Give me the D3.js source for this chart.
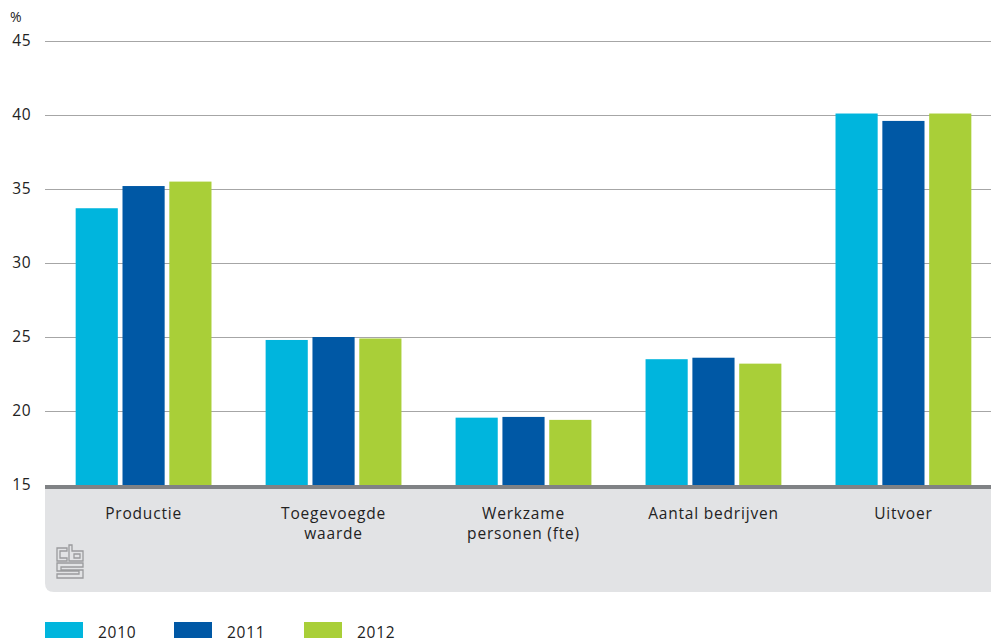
<!DOCTYPE html>
<html><head><meta charset="utf-8">
<script src="https://cdn.jsdelivr.net/npm/d3@7"></script>
<style>body{margin:0;background:#fff}svg{display:block}text{font-family:"Open Sans","Noto Sans",sans-serif;fill:#222}</style>
</head><body><svg id="c" width="991" height="642"></svg>
<script>
const categories = ["Productie", "Toegevoegde\nwaarde", "Werkzame\npersonen (fte)", "Aantal bedrijven", "Uitvoer"];
const years = ["2010", "2011", "2012"];
const v2010 = [33.7, 24.8, 19.55, 23.5, 40.1];
const v2011 = [35.2, 25.0, 19.6, 23.6, 39.6];
const v2012 = [35.5, 24.9, 19.4, 23.2, 40.1];
const yTicks = [15, 20, 25, 30, 35, 40, 45];
const colors = ["#00b5dd", "#0058a5", "#a9cf38"];
const series = [v2010, v2011, v2012];

(function () {
const svg = d3.select("#c");
const pLeft = 45, pRight = 991, pTop = 41, pBottom = 485;
const y = d3.scaleLinear().domain([15, 45]).range([pBottom, pTop]);
const x0 = d3.scaleBand().domain(categories).range([48.5, 998.5]).paddingInner(0.285).paddingOuter(0.143);
const x1 = d3.scaleBand().domain(years).range([0, x0.bandwidth()]).paddingInner(0.1);

// gray panel
const panelBottom = 592, r = 9;
svg.append("path").attr("fill", "#e2e3e5")
  .attr("d", `M${pLeft},${pBottom} H${pRight} V${panelBottom} H${pLeft + r} Q${pLeft},${panelBottom} ${pLeft},${panelBottom - r} Z`);

// grid
const yAxis = d3.axisLeft(y).tickValues(yTicks).tickSize(-(pRight - pLeft)).tickFormat(d3.format("d"));
const ga = svg.append("g").attr("transform", `translate(${pLeft},0)`).call(yAxis);
ga.select(".domain").remove();
ga.selectAll(".tick line").attr("stroke", "#a6a6a6").attr("stroke-width", 1);
ga.selectAll(".tick text").attr("x", -14).attr("font-size", 15.5).attr("fill", "#222")
  .attr("letter-spacing", 0.5)
  .style("font-family", '"Open Sans","Noto Sans",sans-serif');
svg.append("text").attr("x", 10).attr("y", 22).attr("font-size", 14).text("%");

// bars
const g = svg.append("g");
categories.forEach((c, i) => {
  years.forEach((yr, j) => {
    const v = series[j][i];
    g.append("rect")
      .attr("x", x0(c) + x1(yr))
      .attr("y", y(v))
      .attr("width", x1.bandwidth())
      .attr("height", y(15) - y(v))
      .attr("fill", colors[j]);
  });
});

// axis line
svg.append("rect").attr("x", pLeft).attr("y", pBottom).attr("width", pRight - pLeft).attr("height", 4).attr("fill", "#808285");

// category labels
categories.forEach(c => {
  const lines = c.split("\n");
  const cx = x0(c) + x0.bandwidth() / 2;
  const t = svg.append("text").attr("text-anchor", "middle").attr("font-size", 15.5)
    .attr("letter-spacing", 0.8).attr("x", cx).attr("y", 519);
  lines.forEach((l, k) => t.append("tspan").attr("x", cx).attr("dy", k ? 20 : 0).text(l));
});

// CBS logo (approximation)
const logo = svg.append("g").attr("fill", "none").attr("stroke", "#9a9b9d").attr("stroke-width", 1.3);
logo.append("path").attr("d", "M67,548 H57 V561 H67 V558 H60 V551 H67 Z");
logo.append("path").attr("d", "M69,545 V561 H83 V551 H72 V545 Z M74,554 H80 V558 H74 Z");
logo.append("path").attr("d", "M57,563 H83 V567 H61 V570 H83 V578 H57 V574 H79 V571 H57 Z");

// legend
const lx = [45, 174, 304];
years.forEach((yr, j) => {
  svg.append("rect").attr("x", lx[j]).attr("y", 622).attr("width", 38).attr("height", 16).attr("fill", colors[j]);
  svg.append("text").attr("x", lx[j] + 53).attr("y", 638).attr("font-size", 15.5).attr("letter-spacing", 0.7).text(yr);
});
})();
</script></body></html>
